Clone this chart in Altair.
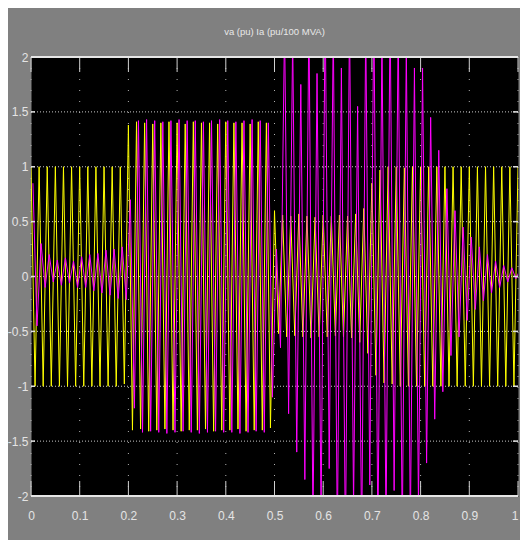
import altair as alt
import pandas as pd

# ---- data: successive half-cycle extremes (one value every 1/120 s, 60 Hz) ----
HALF_CYCLE = 1 / 120
IA_LAG = 0.004  # current lags the voltage

# va (pu) - yellow
va_seg1 = [1.0, -1.0, 1.0, -1.0, 1.0, -1.0, 1.0, -1.0, 1.0, -1.0, 1.0, -1.0,
           1.0, -1.0, 1.0, -1.0, 1.0, -1.0, 1.0, -1.0, 1.0, -1.0, 1.0, -0.98]
va_seg2 = [1.38, -1.4, 1.41, -1.39, 1.4, -1.41, 1.39, -1.4, 1.4, -1.39, 1.41, -1.4,
           1.4, -1.41, 1.39, -1.4, 1.41, -1.4, 1.4, -1.39, 1.4, -1.41, 1.39, -1.4,
           1.41, -1.4, 1.4, -1.39, 1.4, -1.41, 1.39, -1.4, 1.41, -1.4, 1.4, -1.38]
va_seg3 = [0.6, -0.52, 0.56, -0.55, 0.55, -0.54, 0.57, -0.55, 0.55, -0.56, 0.54, -0.55,
           0.56, -0.55, 0.55, -0.54, 0.56, -0.55, 0.55, -0.56, 0.57, -0.6, 0.62, -0.7]
va_seg4 = [0.85, -0.9, 0.97, -0.97, 1.0, -0.98, 1.0, -1.0, 0.99, -1.0, 1.0, -1.0,
           1.0, -1.0, 1.0, -1.0, 1.0, -1.0, 1.0, -1.0, 1.0, -1.0, 1.0, -1.0,
           1.0, -1.0, 1.0, -1.0, 1.0, -1.0, 1.0, -1.0, 1.0, -1.0, 1.0, -1.0, 1.0]

# Ia (pu/100 MVA) - magenta
ia_seg1 = [0.85, -0.45, 0.3, -0.1, 0.2, -0.05, 0.15, -0.08, 0.17, -0.06, 0.14, -0.1,
           0.18, -0.1, 0.2, -0.13, 0.21, -0.15, 0.24, -0.17, 0.25, -0.2, 0.27, -0.21]
ia_seg2 = [0.7, -1.2, 1.42, -1.42, 1.43, -1.41, 1.42, -1.42, 1.41, -1.43, 1.42, -1.42,
           1.43, -1.41, 1.42, -1.42, 1.42, -1.43, 1.41, -1.42, 1.42, -1.41, 1.43, -1.42,
           1.42, -1.42, 1.41, -1.43, 1.42, -1.42, 1.43, -1.41, 1.42, -1.42, 1.4, -1.1]
ia_seg3 = [0.25, -0.65, 2.3, -1.25, 2.2, -1.6, 1.75, -1.85, 2.4, -2.3, 1.85, -2.2,
           2.5, -1.75, 2.3, -2.4, 1.9, -2.5, 2.4, -2.1, 1.55, -2.45, 2.3, -1.9,
           2.5, -2.4, 2.2, -2.3, 2.45, -1.95, 2.3, -2.4, 2.1, -2.3, 1.9, -2.1]
ia_seg4 = [1.9, -1.7, 1.45, -1.3, 1.15, -1.05, 0.8, -0.72, 0.6, -0.55, 0.45, -0.4,
           0.36, -0.3, 0.27, -0.22, 0.2, -0.15, 0.14, -0.1, 0.1, -0.05, 0.08, -0.02, 0.06]

x_ticks = [0, 0.1, 0.2, 0.3, 0.4, 0.5, 0.6, 0.7, 0.8, 0.9, 1]
y_ticks = [-2, -1.5, -1, -0.5, 0, 0.5, 1, 1.5, 2]
y_grid = [-1.5, -1, -0.5, 0, 0.5, 1, 1.5]
y_border = [-2, 2]

va = va_seg1 + va_seg2 + va_seg3 + va_seg4
ia = ia_seg1 + ia_seg2 + ia_seg3 + ia_seg4
df_va = pd.DataFrame({"t": [k * HALF_CYCLE for k in range(len(va))], "v": va})
df_ia = pd.DataFrame({"t": [k * HALF_CYCLE + IA_LAG for k in range(len(ia))], "v": ia})

W, H = 487, 439
FONT = "Liberation Sans"
LABEL_COLOR = "#e4e4e4"

xs = alt.Scale(domain=[0, 1], nice=False, zero=False)
ys = alt.Scale(domain=[-2, 2], nice=False, zero=False)

x_axis = alt.Axis(values=x_ticks, labelExpr="'' + datum.value", grid=False, ticks=False,
                  domain=False, labelPadding=14, labelFontSize=12, labelColor=LABEL_COLOR,
                  labelFont=FONT, title=None, labelBaseline="top", labelFlush=False,
                  labelAlign={"condition": {"test": "datum.value >= 1", "value": "right"},
                              "value": "center"})
y_axis = alt.Axis(values=y_ticks, labelExpr="'' + datum.value", grid=False, ticks=False,
                  domain=False, labelPadding=3, labelFontSize=12, labelColor=LABEL_COLOR,
                  labelFont=FONT, title=None, labelFlush=False)

X = lambda f: alt.X(f, scale=xs, axis=x_axis, title=None)
Y = lambda f: alt.Y(f, scale=ys, axis=y_axis, title=None)

grid_x = alt.Chart(pd.DataFrame({"t": x_ticks})).mark_rule(
    color="#b0b0b0", strokeDash=[1, 10], strokeWidth=1
).encode(x=X("t:Q"))

grid_y = alt.Chart(pd.DataFrame({"v": y_grid})).mark_rule(
    color="#c8c8c8", strokeDash=[1, 2], strokeWidth=1
).encode(y=Y("v:Q"))

tick_top = alt.Chart(pd.DataFrame({"t": x_ticks})).mark_rule(
    color="#d0d0d0", strokeWidth=1
).encode(x=X("t:Q"), y=alt.value(0), y2=alt.value(15))
tick_bot = alt.Chart(pd.DataFrame({"t": x_ticks})).mark_rule(
    color="#d0d0d0", strokeWidth=1
).encode(x=X("t:Q"), y=alt.value(H - 15), y2=alt.value(H))
tick_left = alt.Chart(pd.DataFrame({"v": y_ticks})).mark_rule(
    color="#e0e0e0", strokeWidth=1.5
).encode(y=Y("v:Q"), x=alt.value(0), x2=alt.value(4))
tick_right = alt.Chart(pd.DataFrame({"v": y_ticks})).mark_rule(
    color="#e0e0e0", strokeWidth=1.5
).encode(y=Y("v:Q"), x=alt.value(W - 5), x2=alt.value(W))

border = alt.Chart(pd.DataFrame({"v": y_border})).mark_rule(
    color="#e6e6e6", strokeWidth=2
).encode(y=Y("v:Q"))

line_va = alt.Chart(df_va).mark_line(color="#ffff00", strokeWidth=1, clip=True).encode(
    x=X("t:Q"), y=Y("v:Q"),
)
line_ia = alt.Chart(df_ia).mark_line(color="#ff00ff", strokeWidth=1, clip=True).encode(
    x=X("t:Q"), y=Y("v:Q"),
)

chart = alt.layer(
    grid_x, grid_y, line_va, line_ia, tick_top, tick_bot, tick_left, tick_right, border
).properties(
    width=W,
    height=H,
    title=alt.TitleParams("va (pu) Ia (pu/100 MVA)", fontSize=9.5, color="#e8e8e8",
                          font=FONT, fontWeight="normal", offset=15, anchor="middle"),
    autosize=alt.AutoSizeParams(type="none"),
    padding={"left": 23, "top": 49, "right": 2, "bottom": 44},
).configure(background="#808080").configure_view(fill="black", stroke="transparent")

chart.save("out.html", embed_options={"renderer": "svg", "actions": False})
